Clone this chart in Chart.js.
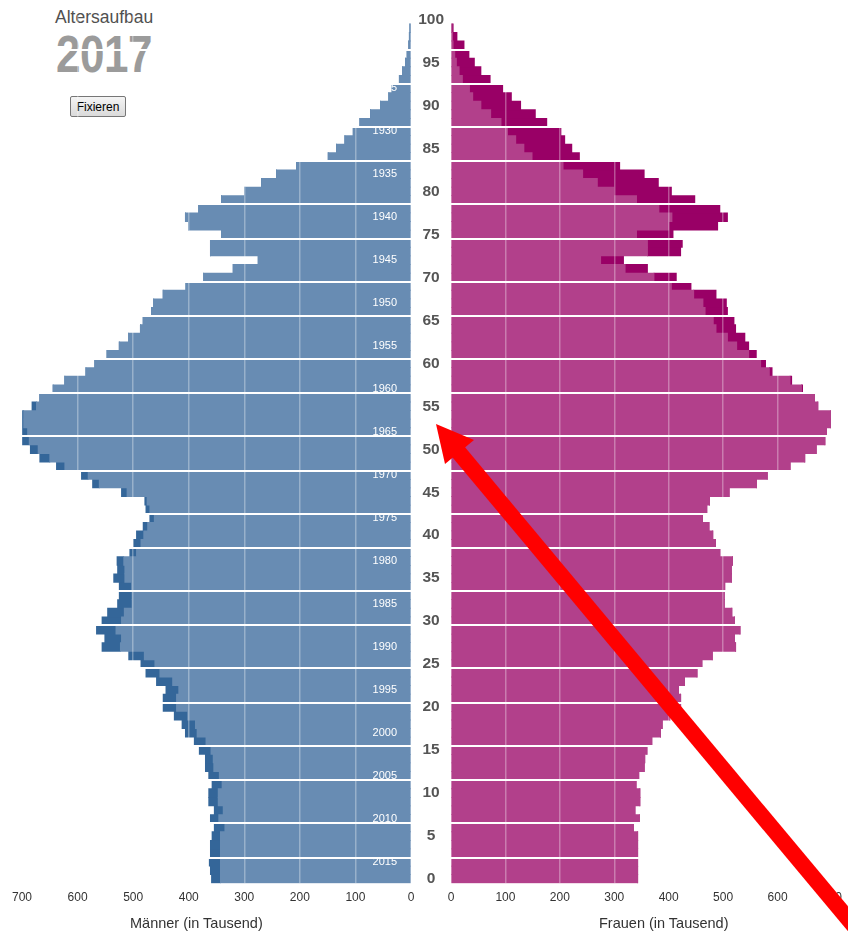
<!DOCTYPE html>
<html><head><meta charset="utf-8">
<script src="https://cdn.jsdelivr.net/npm/chart.js@4.4.0/dist/chart.umd.min.js"></script>
<style>
html,body{margin:0;padding:0;background:#fff;width:848px;height:934px;overflow:hidden;font-family:"Liberation Sans",Arial,sans-serif;}
#wrap{position:relative;width:848px;height:934px;overflow:hidden;}
.t{position:absolute;white-space:nowrap;}
#h1{left:55px;top:7px;font-size:17.5px;line-height:20px;color:#505050;}
#yr{left:56px;top:29px;font-size:44px;line-height:44px;font-weight:bold;letter-spacing:-0.5px;color:#9b9b9b;transform:scaleY(1.16);transform-origin:0 0;}
#btn{position:absolute;left:70px;top:96px;width:56px;height:21px;padding:0;font:12px "Liberation Sans",Arial,sans-serif;color:#000;border:1px solid #767676;border-radius:2px;background:linear-gradient(#f4f4f4,#dadada);}
#cm{position:absolute;left:0;top:0;}
#cf{position:absolute;left:411px;top:0;}
.ax{font-size:14.5px;line-height:17px;color:#333;top:915px;}
#axm{left:130px;}
#axf{left:599px;}
#arrow{position:absolute;left:0;top:0;pointer-events:none;}
</style></head><body>
<div id="wrap">
<div class="t" id="h1">Altersaufbau</div>
<div class="t" id="yr">2017</div>
<button id="btn">Fixieren</button>
<canvas id="cm" width="415" height="934" style="width:415px;height:934px"></canvas>
<canvas id="cf" width="438" height="934" style="width:438px;height:934px"></canvas>
<div class="t ax" id="axm">Männer (in Tausend)</div>
<div class="t ax" id="axf">Frauen (in Tausend)</div>
<svg id="arrow" width="848" height="934">
<line x1="456" y1="449" x2="879" y2="956" stroke="#ff0000" stroke-width="16"/>
<polygon points="436,424 474,440 445,464" fill="#ff0000"/>
</svg>
</div>
<script>
// ---- Daten (Bevölkerung 2017, in Tausend) ----
const berichtsjahr = 2017;
const alter = [0,1,2,3,4,5,6,7,8,9,10,11,12,13,14,15,16,17,18,19,20,21,22,23,24,25,26,27,28,29,30,31,32,33,34,35,36,37,38,39,40,41,42,43,44,45,46,47,48,49,50,51,52,53,54,55,56,57,58,59,60,61,62,63,64,65,66,67,68,69,70,71,72,73,74,75,76,77,78,79,80,81,82,83,84,85,86,87,88,89,90,91,92,93,94,95,96,97,98,99];
const maenner = [359,361,363,361,361,358,354,361,354,364,
 364,358,364,370,370,381,390,406,412,426,
 446,446,441,458,477,486,508,556,551,566,
 556,546,528,525,525,535,528,529,506,499,
 494,482,470,477,479,521,573,593,638,668,
 685,704,706,718,709,682,668,644,623,585,
 569,547,525,508,487,482,467,463,446,405,
 373,320,275,361,361,341,400,406,382,341,
 299,269,242,206,149,134,119,104,92,73,
 55,40,34,21,15,10,7,4,3,2];
const frauen = [343,343,343,343,343,343,335,346,338,347,
 347,340,345,355,356,360,369,385,388,402,
 422,422,418,429,452,461,480,523,521,531,
 521,516,502,502,503,515,515,517,494,486,
 481,474,462,470,475,511,561,581,623,650,
 671,687,690,697,697,674,668,646,626,590,
 578,561,547,540,523,520,508,506,487,441,
 414,361,317,422,425,408,490,508,494,448,
 405,381,355,310,236,222,209,202,176,155,
 128,111,95,72,55,43,33,24,11,4];
const altersTicks = [0,5,10,15,20,25,30,35,40,45,50,55,60,65,70,75,80,85,90,95,100];
const jahrgaenge = [1925,1930,1935,1940,1945,1950,1955,1960,1965,1970,1975,1980,1985,1990,1995,2000,2005,2010,2015];
const xTicks = [0,100,200,300,400,500,600,700];
const trennlinien = [3,7,12,16,21,25,30,34,39,43,48,52,57,61,66,70,75,79,84,88,93,97];

const FONT = '"Liberation Sans", Arial, sans-serif';
const COL = {mL:'#688cb3', mD:'#346699', fL:'#b2408b', fD:'#990066'};

function pts(vals){ return alter.map((a,i)=>({x:vals[i], y:a+0.5})); }
const gemeinsam = alter.map((a,i)=>Math.min(maenner[i], frauen[i]));
const mUeber = maenner.map((v,i)=>v-gemeinsam[i]);
const fUeber = frauen.map((v,i)=>v-gemeinsam[i]);

const barDs = {barPercentage:1, categoryPercentage:1, borderWidth:0, inflateAmount:0.4, stack:'s'};

function noPad(s){ s.paddingTop = 0; s.paddingBottom = 0; }

function xScale(rev){
  return {
    type:'linear', reverse:rev, min:0, max:700, stacked:true, offset:false,
    afterBuildTicks: s => { s.ticks = xTicks.map(v=>({value:v})); },
    grid:{z:1, offset:false, color: c => (c.tick && c.tick.value>0) ? 'rgba(255,255,255,0.32)' : 'rgba(0,0,0,0)', lineWidth:1.5, drawTicks:false},
    border:{display:false},
    ticks:{color:'#333', font:{size:12, family:FONT}, padding:7, maxRotation:0, autoSkip:false}
  };
}
function lineScale(pos){
  return {
    type:'linear', position:pos, min:0, max:101, offset:false,
    afterBuildTicks: s => { s.ticks = trennlinien.map(v=>({value:v})); },
    afterFit: s => { s.width = 0; noPad(s); },
    grid:{z:1, offset:false, color:'#ffffff', lineWidth:2, drawTicks:false},
    border:{display:false},
    ticks:{display:false}
  };
}

new Chart(document.getElementById('cm'), {
  type:'bar',
  data:{datasets:[
    Object.assign({data:pts(gemeinsam), backgroundColor:COL.mL}, barDs),
    Object.assign({data:pts(mUeber), backgroundColor:COL.mD}, barDs)
  ]},
  options:{
    indexAxis:'y', responsive:false, animation:false,
    layout:{padding:{left:22, right:4, top:15.2, bottom:22.3}},
    plugins:{legend:{display:false}, tooltip:{enabled:false}},
    scales:{
      x: xScale(true),
      y: Object.assign(lineScale('left'), {stacked:true}),
      yj: {
        type:'linear', position:'right', min:0, max:101, offset:false,
        afterBuildTicks: s => { s.ticks = jahrgaenge.map(j=>({value: berichtsjahr - j + 0.5})); },
        afterFit: s => { s.width = 0; noPad(s); },
        grid:{display:false, drawTicks:false}, border:{display:false},
        ticks:{z:2, mirror:true, color:'#ffffff', font:{size:11, family:FONT}, padding:-14, autoSkip:false,
               callback: v => String(Math.round(berichtsjahr - (v - 0.5)))}
      }
    }
  }
});

new Chart(document.getElementById('cf'), {
  type:'bar',
  data:{datasets:[
    Object.assign({data:pts(gemeinsam), backgroundColor:COL.fL}, barDs),
    Object.assign({data:pts(fUeber), backgroundColor:COL.fD}, barDs)
  ]},
  options:{
    indexAxis:'y', responsive:false, animation:false,
    layout:{padding:{left:0, right:10.5, top:15.2, bottom:22.3}},
    plugins:{legend:{display:false}, tooltip:{enabled:false}},
    scales:{
      x: xScale(false),
      y: {
        type:'linear', position:'left', min:0, max:101, stacked:true, offset:false,
        afterBuildTicks: s => { s.ticks = altersTicks.map(a=>({value:a+0.5})); },
        afterFit: s => { s.width = 40; noPad(s); },
        grid:{display:false, drawTicks:false, offset:false}, border:{display:false},
        ticks:{color:'#555', font:{size:15.5, weight:'bold', family:FONT}, crossAlign:'center', padding:7, autoSkip:false,
               callback: v => String(Math.round(v - 0.5))}
      },
      yg: lineScale('right')
    }
  }
});
</script>
</body></html>
